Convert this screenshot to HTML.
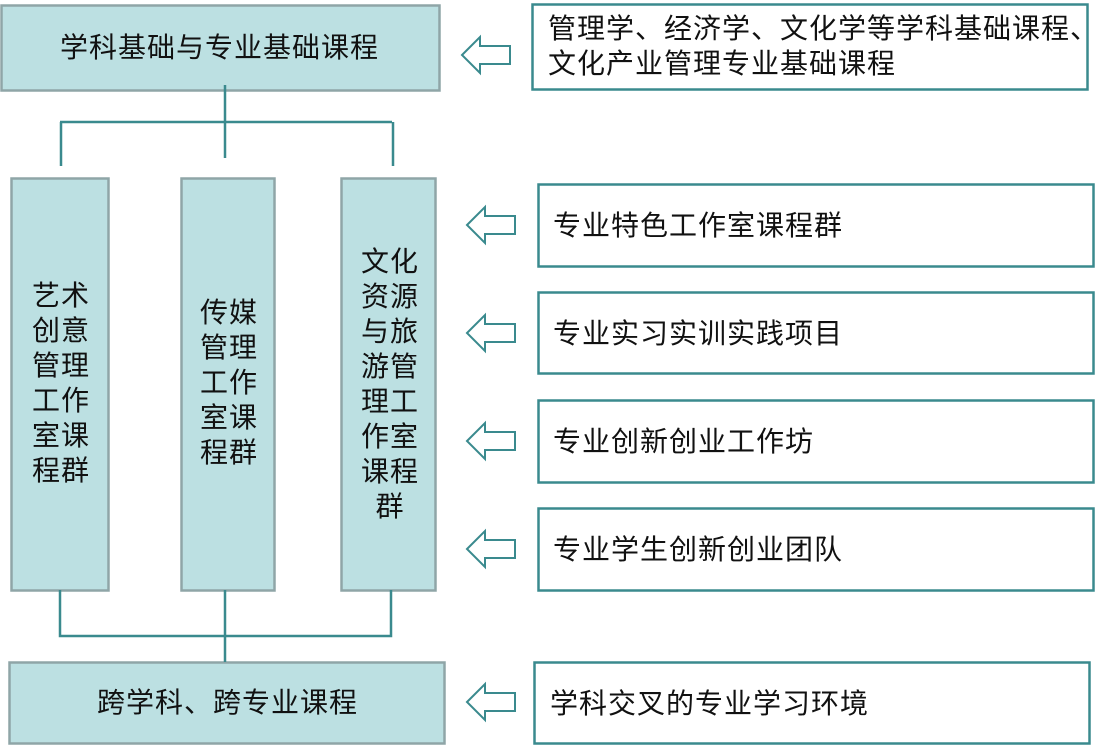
<!DOCTYPE html>
<html><head><meta charset="utf-8"><style>
body{margin:0;background:#fff;}
text{font-family:"Liberation Sans","Noto Sans CJK SC",sans-serif;font-size:28px;letter-spacing:1px;fill:#111;}
</style></head><body>
<svg width="1102" height="746" xmlns="http://www.w3.org/2000/svg">
<defs>
<g id="arr"><path d="M0 0 L18 -18 L18 -9 L48 -9 L48 9 L18 9 L18 18 Z" fill="#fff" stroke="#3a8a8e" stroke-width="2"/></g>
</defs>
<g fill="#bce0e2" stroke="#8fa5a7" stroke-width="2.5">
<rect x="1.5" y="5.5" width="438" height="85"/>
<rect x="11.5" y="178.5" width="97" height="412"/>
<rect x="181.5" y="178.5" width="93" height="412"/>
<rect x="341.5" y="178.5" width="94" height="412"/>
<rect x="9.5" y="662.5" width="435" height="81"/>
</g>
<g fill="#fff" stroke="#3a8a8e" stroke-width="2.5">
<rect x="532.5" y="4.5" width="555" height="85"/>
<rect x="538.5" y="184.5" width="555" height="82"/>
<rect x="538.5" y="292.5" width="555" height="81"/>
<rect x="538.5" y="400.5" width="555" height="82"/>
<rect x="538.5" y="508.5" width="555" height="82"/>
<rect x="534.5" y="662.5" width="555" height="81"/>
</g>
<g stroke="#3a8a8e" stroke-width="2.5" fill="none">
<path d="M225 85 V158 M60 122 H392 M61 122 V166 M393 122 V166"/>
<path d="M60 590 V636 H391 V590 M225 590 V662"/>
</g>
<use href="#arr" x="462" y="55"/>
<use href="#arr" x="467" y="225"/>
<use href="#arr" x="467" y="333"/>
<use href="#arr" x="467" y="441"/>
<use href="#arr" x="467" y="549"/>
<use href="#arr" x="467" y="702"/>
<text x="60" y="57">学科基础与专业基础课程</text>
<text x="97" y="712">跨学科、跨专业课程</text>
<text x="548" y="38">管理学、经济学、文化学等学科基础课程、</text>
<text x="548" y="73">文化产业管理专业基础课程</text>
<text x="553" y="235">专业特色工作室课程群</text>
<text x="553" y="343">专业实习实训实践项目</text>
<text x="553" y="451">专业创新创业工作坊</text>
<text x="553" y="559">专业学生创新创业团队</text>
<text x="550" y="713">学科交叉的专业学习环境</text>
<g text-anchor="middle">
<text x="61" y="305">艺术</text><text x="61" y="340">创意</text><text x="61" y="375">管理</text><text x="61" y="410">工作</text><text x="61" y="445">室课</text><text x="61" y="480">程群</text>
<text x="229" y="322">传媒</text><text x="229" y="357">管理</text><text x="229" y="392">工作</text><text x="229" y="427">室课</text><text x="229" y="462">程群</text>
<text x="390" y="271">文化</text><text x="390" y="306">资源</text><text x="390" y="341">与旅</text><text x="390" y="376">游管</text><text x="390" y="411">理工</text><text x="390" y="446">作室</text><text x="390" y="481">课程</text><text x="390" y="516">群</text>
</g>
</svg>
</body></html>
